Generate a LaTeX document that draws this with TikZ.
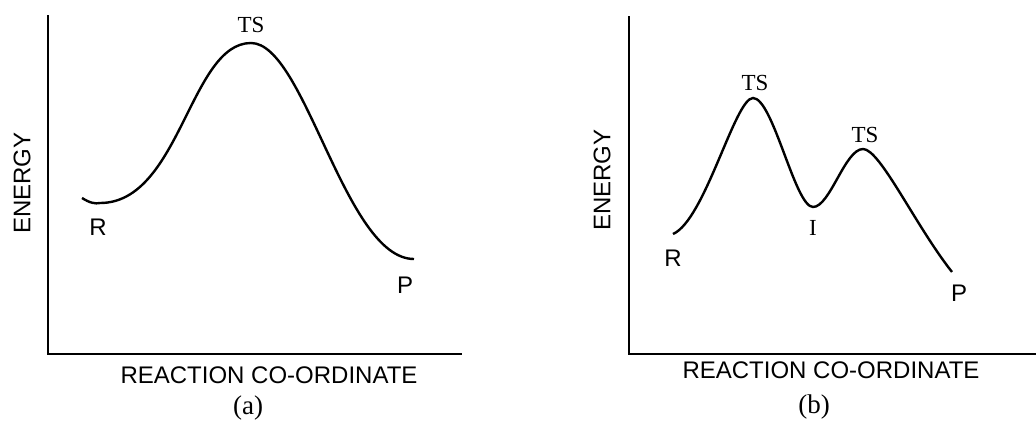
\documentclass[tikz,border=0pt]{standalone}
\usepackage{fontspec}
\setmainfont{Liberation Serif}
\setsansfont{Liberation Sans}
\usepackage{tikz}
\usetikzlibrary{positioning}

\begin{document}
\begin{tikzpicture}[x=0.5pt, y=-0.5pt,
    axis/.style={line width=1.1pt},
    curve/.style={line width=1.2pt},
    state/.style={font=\fontsize{11.5}{13}\selectfont, inner sep=0pt},
    species/.style={font=\sffamily\fontsize{12}{14}\selectfont, inner sep=0pt},
    axislabel/.style={font=\sffamily\fontsize{12}{14}\selectfont, inner sep=0pt},
    caption/.style={font=\fontsize{13.5}{15}\selectfont, inner sep=0pt}
]
\useasboundingbox (0,0) rectangle (1036,423);

% Panel (a): single step
\draw[axis] (48,15) -- (48,354) -- (462,354);
\draw[curve] (82,198) .. controls (90,203) and (95,204) .. (100,203)
    .. controls (180,203) and (190,43) .. (251,43)
    .. controls (305,43) and (345,259) .. (414,259);
\node[state] (tsa) at (251,25) {TS};
\node[species] (ra) at (98,227) {R};
\node[species] (pa) at (405,285) {P};
\node[axislabel, rotate=90] (ya) at (22,183) {ENERGY};
\node[axislabel] (xa) at (269,375) {REACTION CO-ORDINATE};
\node[caption] (capa) at (248,408) {(a)};

% Panel (b): two steps via intermediate
\draw[axis] (629,16) -- (629,354) -- (1036,354);
\draw[curve] (673,234) .. controls (705,220) and (735,98) .. (753,98)
    .. controls (773,98) and (795,207) .. (813,207)
    .. controls (830,207) and (845,149) .. (863,149)
    .. controls (880,149) and (915,225) .. (952,272);
\node[state] (tsb1) at (755,83) {TS};
\node[state] (tsb2) at (865,135) {TS};
\node[state] (ib) at (813,228) {I};
\node[species] (rb) at (673,258) {R};
\node[species] (pb) at (959,293) {P};
\node[axislabel, rotate=90] (yb) at (602,180) {ENERGY};
\node[axislabel] (xb) at (831,370) {REACTION CO-ORDINATE};
\node[caption] (capb) at (814,407) {(b)};

\end{tikzpicture}
\end{document}
